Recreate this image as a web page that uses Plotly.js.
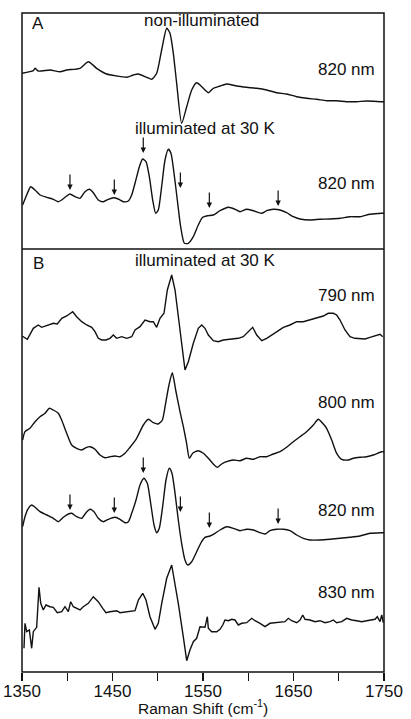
<!DOCTYPE html>
<html><head><meta charset="utf-8">
<script src="https://cdn.plot.ly/plotly-3.0.1.min.js"></script>
<style>html,body{margin:0;padding:0;background:#fff;}#chart{width:411px;height:719px;}</style>
</head><body><div id="chart"></div>
<script>
// Raman shift (cm-1) and stacked intensity (arbitrary units, traces stacked)
const a1_x = [1350,1362.5,1364.4,1368,1381,1392,1399.4,1414,1423.3,1432.5,1443.5,1454.6,1465.7,1473,1478.5,1487.8,1493.3,1498.8,1504.3,1509.9,1513.5,1517.2,1520.9,1526.4,1532,1537.5,1543,1546.7,1552.2,1555.9,1561.4,1568.8,1576.1,1587.2,1598.2,1609.3,1620.3,1631.4,1642.4,1653.5,1664.5,1675.6,1686.6,1697.7,1708.7,1719.8,1730.8,1747.4,1750];
const a1_y = [598.7,601.3,603.7,601,602,600.3,602,603.7,610.3,603.7,598,596,594.7,597,598,594.7,592.7,598.7,622,643.7,638.7,618.7,588.7,548.7,565.3,582,589.3,587,582,579.3,583.7,586,588,586,584.7,583.7,582,579.3,578,575.3,573.7,572.7,571.3,571.3,570.3,570.3,571,570.3,570.3];

const a2_x = [1350.7,1355.2,1359.6,1364.4,1369.9,1377.3,1384.6,1390.1,1393.8,1399.4,1403,1408.6,1414.1,1419.6,1424.4,1428.8,1434.3,1439.9,1445.4,1450.9,1456.4,1462,1467.5,1471.2,1474.9,1479.7,1483.3,1487,1490.7,1494.4,1497.7,1500.6,1504.3,1508,1511.7,1514.6,1518,1521.6,1525.3,1529.4,1533.8,1539.3,1544.8,1549.6,1554.8,1561.4,1568.8,1578,1585.4,1590.9,1598.2,1605.6,1614.8,1620.3,1627.7,1635.1,1642.4,1649.8,1657.2,1668.2,1679.3,1690.3,1701.4,1712.4,1723.5,1734.5,1747.4,1750];
const a2_y = [467,477,485.3,482,477,474.7,472.7,470.3,472,476,478,475.3,473.7,480.3,482.7,479.3,472,470.3,472.7,474.3,473,470.3,471,477,488.7,505.3,513,510.3,495.3,472,458.7,462,485.3,512,522.7,518.7,498.7,472,445.3,428.7,428.7,435.3,447,454.7,456.3,457,461.3,464.7,462.7,460.3,462.7,461.3,458.7,461.3,462.7,462,459.3,455.3,453,452,452.7,453,453.7,455.3,455.3,457.7,458.7,458.7];

const b790_x = [1350,1355.9,1362.5,1368,1371.7,1375.4,1380.2,1384.6,1389,1393.9,1399.4,1406,1410.4,1416,1421.5,1427,1430.7,1434.3,1438.1,1442.8,1447.2,1450.9,1454.6,1460.2,1465.7,1471.2,1474.9,1480.4,1485.9,1491.4,1495.1,1498.8,1502.5,1506.9,1510.6,1515.4,1519.1,1523.8,1530.1,1533.8,1539.3,1544.8,1548.6,1552.2,1555.9,1561.4,1566.9,1572.4,1578,1583.5,1589,1594.5,1600.1,1604.9,1609.3,1614.9,1620.4,1625.9,1631.4,1638.8,1646.1,1653.5,1660.8,1668.2,1675.6,1682.9,1688.4,1694,1697.7,1701.4,1706.9,1712.4,1717.9,1723.5,1729,1734.5,1740.1,1745.6,1748.6];
const b790_y = [336,332.7,343.7,347,344.7,346,347.7,348.7,348,353.7,356,360.3,355.3,350.3,347,344.7,340.3,333.7,332,332,333.7,337,333.7,335.3,333.7,335.3,342,345.3,352,350.3,350.3,344.7,353.7,358.7,382,397,382,345.3,302,310.3,328.7,343.7,347,343.7,337,331.3,330.3,332,332.7,333.3,333.7,335.3,340.3,344.7,337,331.3,333.7,337,340.3,344.7,347,350.3,350.3,352,353.7,356,358.7,358.7,357,352,342,335.3,333.7,333.7,333,334.7,336,337.7,335.3];

const b800_x = [1350.7,1353.3,1358.8,1364.4,1369.9,1375.4,1380.2,1384.6,1390.1,1393.8,1399.4,1404.9,1410.4,1415.9,1421.5,1425.1,1430.7,1436.2,1441.7,1447.2,1452.8,1458.3,1463.8,1469.3,1476.7,1484.1,1489.6,1495.1,1500.6,1505.1,1508.7,1512.4,1516.1,1519.8,1524.6,1528.3,1531.9,1534.9,1538.6,1544.8,1550.4,1555.9,1561.4,1565.8,1570.6,1576.1,1583.5,1590.9,1598.2,1605.6,1613,1620.3,1627.7,1635.1,1642.4,1649.8,1657.2,1664.5,1671.9,1677.4,1682.2,1686.6,1692.2,1697.7,1703.2,1710.6,1716.1,1723.5,1730.8,1738.2,1747.4,1750];
const b800_y = [232,240.3,243.7,250.3,255.3,258.7,263.7,262,258.7,252,238.7,227,223.7,222,224.7,225.3,222.7,217,214.3,215.3,216,215.3,218.7,224.7,233.7,247,252.7,249.3,248,252,268.7,287,299.3,282,260.3,245.3,228.7,213.7,218.7,221.3,218.7,213.7,208,204.7,208,210.3,212,211.3,213.7,212.7,215.3,215.3,218,220.3,224.7,230.3,235.3,240.3,247,252.7,248.7,243.7,232,218.7,212.7,212,213.7,214.7,215.3,217,220.3,220.3];

const b820_x = [1350.7,1353.3,1357,1360.7,1364.4,1369.9,1377.3,1384.6,1390.1,1395.7,1401.2,1404.9,1410.4,1415.9,1420.7,1425.1,1429.6,1434.3,1439.9,1445.4,1452.8,1458.3,1463.8,1467.5,1471.2,1476,1480.4,1484.8,1488.5,1492.2,1495.9,1498.8,1501.7,1505.4,1509.1,1512.8,1515.7,1519.1,1522.7,1526.4,1530.1,1533.1,1537.5,1543,1548.5,1552.2,1557.7,1563.3,1568.8,1576.1,1583.5,1590.9,1598.2,1605.6,1613,1618.5,1624,1631.4,1638.8,1646.1,1653.5,1660.9,1668.2,1679.3,1690.3,1701.4,1712.4,1723.5,1734.5,1747.4,1750];
const b820_y = [145.3,155.3,163.7,167,164.7,160.3,157,153.7,150.3,154.7,158,158.7,155.3,153.7,159.3,162.7,160.3,153.7,150.3,152.7,154.7,152.7,149.3,150.3,158.7,172,187,193.7,188.7,168.7,147,139.3,143.7,165.3,192,203.7,198.7,178.7,152,128.7,112,107,110.3,120.3,130.3,134.7,136,138.7,142,145.3,143.7,141.3,142.7,142,139.3,138,141.3,142.7,142.7,141.3,137,133.7,132,132,132.7,133.7,134.7,136,138.7,139.3,139.3];

const b830_x = [1352.2,1353.3,1355.2,1358.1,1360.7,1362.5,1366.2,1368.8,1370.7,1373.5,1376.5,1380.9,1384.6,1389,1393.9,1397.5,1401.2,1403.8,1406.7,1410.4,1414.1,1417.7,1423.3,1428.8,1434.3,1439.2,1442.8,1447.2,1454.6,1458.3,1465.7,1474.9,1478.6,1483.4,1487,1491.4,1497,1500.6,1504.4,1509.9,1515.4,1522.7,1528.2,1532,1535.6,1539.3,1543,1546.7,1552.2,1554.8,1555.9,1559.6,1565.1,1568.8,1571.8,1574.3,1578,1581.7,1585.4,1589,1592.8,1598.3,1603.8,1607.5,1613,1618.5,1624,1629.6,1635.1,1640.6,1644.3,1648,1653.5,1657.2,1660.2,1662.7,1668.2,1673.8,1679.3,1684.8,1690.3,1694,1697.7,1703.3,1708.8,1714.3,1719.9,1725.4,1730.9,1736.4,1740.1,1742.6,1745.6,1747.5,1749.2];
const b830_y = [23.7,48.7,40.3,42,23.7,40.3,44.7,84.7,68.7,62,67,65.3,64.7,59.3,60.3,65.3,60.3,70.3,65.3,63.7,62,65.3,68.7,75.3,70.3,63.7,59.3,60.3,61.3,59.3,60.3,61.3,72,78.7,72,55.3,42.7,48.7,68.7,93.7,107,68.7,35.3,11.3,22,30.3,33.7,45.3,44.7,55.3,43.7,40.3,40.3,42.7,47,52,51.3,52.7,52,47,48.7,49.3,53.7,51.3,48.7,45.3,48.7,49.3,50.3,50.3,53.7,51.3,49.3,52,57,52.7,52,50.3,51.3,49.3,50.3,52,49.3,50.3,53.7,52,51.3,50.3,51.3,52,52.7,55.3,50.3,57,49.3];

// Marked bands (cm-1)
const arrowBands = [1403,1452,1484,1525,1557,1633];

const FONT = 'Liberation Sans, Arial, sans-serif';
const mk = (x, y, smooth) => ({x:x, y:y, type:'scatter', mode:'lines',
  line:{color:'#111', width:1.4, shape: smooth ? 'spline' : 'linear', smoothing:0.6},
  hoverinfo:'skip', showlegend:false});
const traces = [mk(a1_x,a1_y,true), mk(a2_x,a2_y,true), mk(b790_x,b790_y,false),
  mk(b800_x,b800_y,true), mk(b820_x,b820_y,true), mk(b830_x,b830_y,false)];

const txt = (x,y,t,anchor) => ({x:x, y:y, xref:'x', yref:'y', text:t, showarrow:false,
  xanchor:anchor||'center', yanchor:'middle', font:{family:FONT, size:17, color:'#111'}});
const annotations = [
  txt(1367.7,649,'A'), txt(1548,652,'non-illuminated'), txt(1742,603,'820 nm','right'),
  txt(1553,544,'illuminated at 30 K'), txt(1742,489,'820 nm','right'),
  txt(1367.7,409,'B'), txt(1553,412,'illuminated at 30 K'), txt(1742,377,'790 nm','right'),
  txt(1742,270,'800 nm','right'), txt(1742,162,'820 nm','right'), txt(1742,80,'830 nm','right'),
  {x:0.5, y:-0.0531, xref:'paper', yref:'paper', text:'Raman Shift (cm<sup>-1</sup>)', showarrow:false,
   xanchor:'center', yanchor:'middle', borderpad:0, font:{family:FONT, size:15.5, color:'#111'}}
];
const tipsA = [482,477,519,484,464,466];
const tipsB = [162,159,199,160,144,148];
arrowBands.forEach((b,i) => {
  [tipsA[i], tipsB[i]].forEach(t => annotations.push({x:b, y:t, xref:'x', yref:'y', ax:0, ay:-17,
    showarrow:true, arrowhead:2, arrowsize:0.9, arrowwidth:1.2, arrowcolor:'#111', text:''}));
});

const layout = {
  width:411, height:719, margin:{l:22, r:27, t:13, b:47},
  paper_bgcolor:'#fff', plot_bgcolor:'#fff', showlegend:false,
  xaxis:{range:[1350,1750], tick0:1350, dtick:100, ticks:'outside', ticklen:8,
    tickwidth:1.3, tickcolor:'#111', showgrid:false, zeroline:false, showline:false,
    ticklabelstandoff:-4,
    minor:{dtick:50, ticks:'outside', ticklen:8, tickwidth:1.3, tickcolor:'#111', showgrid:false},
    tickfont:{family:FONT, size:17, color:'#111'}},
  yaxis:{range:[0,659], visible:false, showgrid:false, zeroline:false},
  shapes:[
    {type:'rect', xref:'paper', yref:'paper', x0:0, x1:1, y0:0, y1:1, line:{color:'#111', width:1.5}},
    {type:'line', xref:'paper', yref:'y', x0:0, x1:1, y0:423, y1:423, line:{color:'#111', width:1.5}}
  ],
  annotations: annotations
};
Plotly.newPlot('chart', traces, layout, {displayModeBar:false, staticPlot:true});
</script></body></html>
